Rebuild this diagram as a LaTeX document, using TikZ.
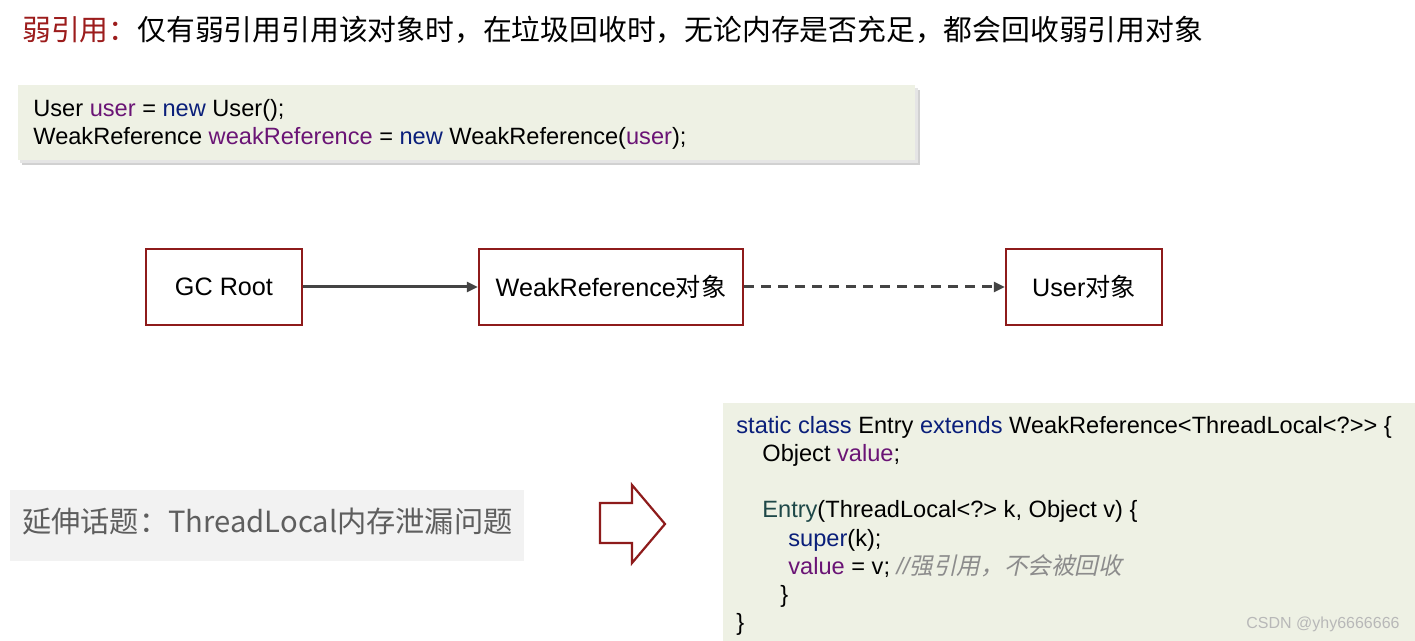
\documentclass[tikz,border=0pt]{standalone}
\usepackage{fontspec}
\setmainfont{Liberation Sans}
\newfontfamily\cjk{Noto Sans CJK SC}
\newfontfamily\cjkit[FakeSlant=0.22]{Noto Sans CJK SC}
\usetikzlibrary{arrows.meta}
\definecolor{titlered}{HTML}{9C1C1C}
\definecolor{boxred}{HTML}{8E1B1B}
\definecolor{codebg}{HTML}{EEF1E4}
\definecolor{kwblue}{HTML}{0A1F7A}
\definecolor{varpurple}{HTML}{6A1475}
\definecolor{ctorteal}{HTML}{1E4848}
\definecolor{cmtgrey}{HTML}{8C8C8C}
\definecolor{linegrey}{HTML}{444444}
\definecolor{subbg}{HTML}{F2F2F2}
\definecolor{subtext}{HTML}{5E5E5E}
\newcommand\codekw[1]{\textcolor{kwblue}{#1}}
\newcommand\codevar[1]{\textcolor{varpurple}{#1}}
\begin{document}
\begin{tikzpicture}[x=0.5pt,y=-0.5pt,
  refbox/.style={draw=boxred, line width=1.2pt, fill=white, minimum height=38pt, inner sep=0pt, font=\fontsize{12.6pt}{14pt}\selectfont},
  codeline/.style={anchor=base west, inner sep=0pt, font=\fontsize{11.8pt}{14pt}\selectfont},
  conn/.style={draw=linegrey, line width=1.5pt, -{Triangle[length=5.5pt,width=5pt]}}
]
\useasboundingbox (0,0) rectangle (1415,641);
\fill[white] (0,0) rectangle (1415,641);

% title
\node[anchor=base west, inner sep=0pt, font=\cjk\fontsize{14.4pt}{16pt}\selectfont] (title) at (22,41)
  {{\color{titlered}弱引用：}仅有弱引用引用该对象时，在垃圾回收时，无论内存是否充足，都会回收弱引用对象};

% code box 1 with shadow
\fill[black!18] (22,90) rectangle (920,165);
\fill[black!10] (20,88) rectangle (918,163);
\fill[codebg] (18,85) rectangle (915,160);
\node[codeline] (c1) at (33,117) {User \codevar{user} = \codekw{new} User();};
\node[codeline] (c2) at (33,145) {WeakReference \codevar{weakReference} = \codekw{new} WeakReference(\codevar{user});};

% reference chain
\node[refbox, minimum width=78pt] (gc) at (224,287) {GC Root};
\node[refbox, minimum width=132pt] (wr) at (611,287) {WeakReference{\cjk 对象}};
\node[refbox, minimum width=78pt] (us) at (1084,287) {User{\cjk 对象}};
\draw[conn] (gc) -- (wr);
\draw[conn, dash pattern=on 5pt off 3.5pt] (wr) -- (us);

% subtitle
\fill[subbg] (10,490) rectangle (524,561);
\node[anchor=base west, inner sep=0pt, text=subtext, font=\cjk\fontsize{14.6pt}{16pt}\selectfont] (sub) at (22,533)
  {延伸话题：ThreadLocal内存泄漏问题};

% hollow arrow
\draw[boxred, line width=1.1pt, fill=white, line join=miter]
  (600,503) -- (632,503) -- (632,485) -- (665,524) -- (632,563) -- (632,543) -- (600,543) -- cycle;

% code box 2
\fill[codebg] (723,403) rectangle (1415,641);
\node[codeline] (e1) at (736,434) {\codekw{static class} Entry \codekw{extends} WeakReference<ThreadLocal<?>{}> \{};
\node[codeline] (e2) at (762,462) {Object \codevar{value};};
\node[codeline] (e3) at (762,518) {\textcolor{ctorteal}{Entry}(ThreadLocal<?> k, Object v) \{};
\node[codeline] (e4) at (788,547) {\codekw{super}(k);};
\node[codeline] (e5) at (788,575) {\codevar{value} = v; {\color{cmtgrey}\itshape //\cjkit 强引用，不会被回收}};
\node[codeline] (e6) at (780,603) {\}};
\node[codeline] (e7) at (736,631) {\}};

% watermark
\node[anchor=base east, inner sep=0pt, text=black!28, font=\fontsize{8pt}{9pt}\selectfont] (wm) at (1400,629) {CSDN @yhy6666666};
\end{tikzpicture}
\end{document}
